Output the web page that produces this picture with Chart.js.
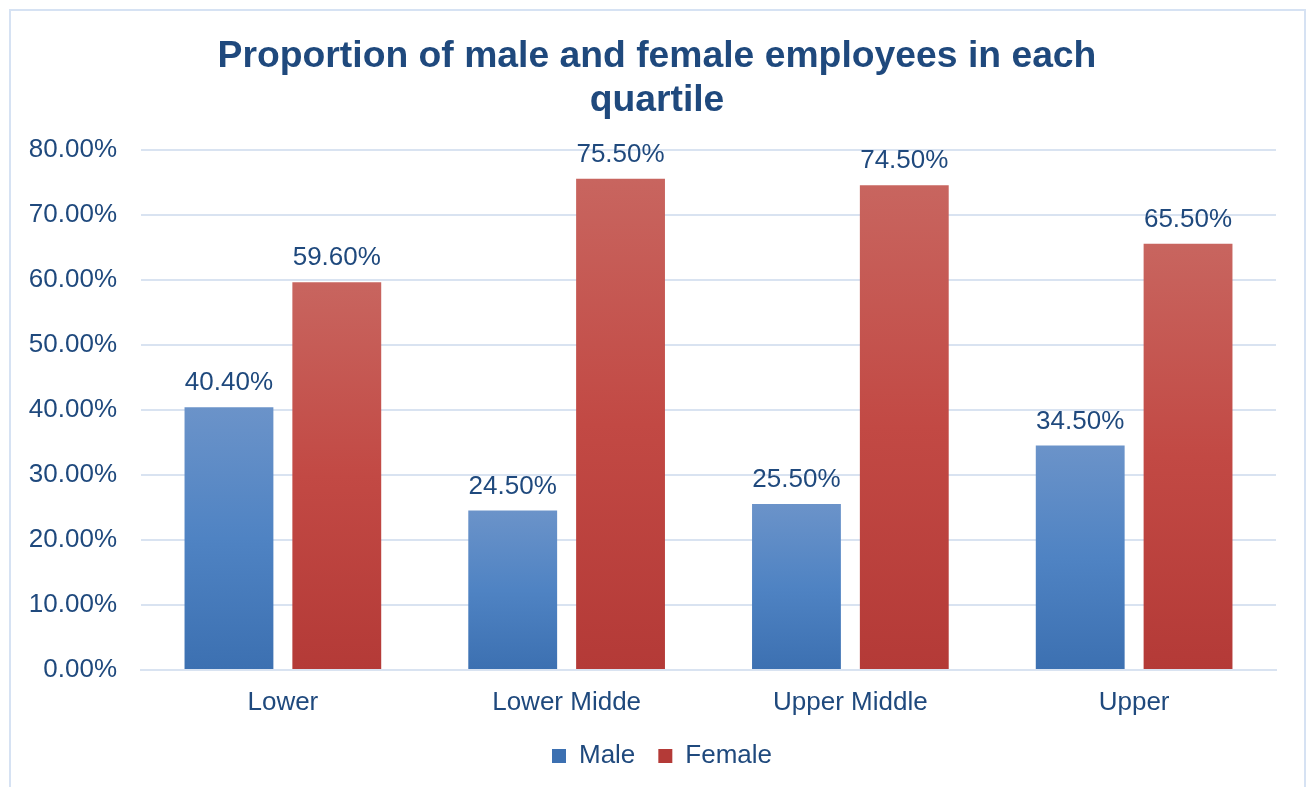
<!DOCTYPE html>
<html>
<head>
<meta charset="utf-8">
<script src="https://cdn.jsdelivr.net/npm/chart.js@4.4.1/dist/chart.umd.min.js"></script>
<style>
  html, body { margin: 0; padding: 0; background: #fff; overflow: hidden; }
  #frame {
    position: absolute; left: 9px; top: 9px; width: 1293px; height: 820px;
    border: 2px solid #d6e2f3; box-sizing: content-box; pointer-events: none;
  }
  #wrap { position: absolute; left: 0; top: 0; width: 1309px; height: 787px; }
</style>
</head>
<body>
<div id="wrap"><canvas id="chart"></canvas></div>
<div id="frame"></div>
<script>
var quartiles = ['Lower', 'Lower Midde', 'Upper Middle', 'Upper'];
var maleValues = [40.4, 24.5, 25.5, 34.5];
var femaleValues = [59.6, 75.5, 74.5, 65.5];
var titleLines = ['Proportion of male and female employees in each', 'quartile'];

var textColor = '#1f497d';
var fontFamily = '"Liberation Sans", Arial, sans-serif';

// each bar gets its own vertical gradient, like the Excel fill
function barGradient(top, mid, bottom, solid) {
  return function (ctx) {
    var chart = ctx.chart;
    if (ctx.type !== 'data' || !chart.chartArea) return solid;
    var y = chart.scales.y;
    var y0 = y.getPixelForValue(0);
    var y1 = y.getPixelForValue(ctx.raw);
    if (!isFinite(y0) || !isFinite(y1) || y0 === y1) return solid;
    var g = chart.ctx.createLinearGradient(0, y1, 0, y0);
    g.addColorStop(0, top);
    g.addColorStop(0.5, mid);
    g.addColorStop(1, bottom);
    return g;
  };
}

var valueLabels = {
  id: 'valueLabels',
  afterDatasetsDraw: function (chart) {
    var c = chart.ctx;
    c.save();
    c.font = '26px ' + fontFamily;
    c.fillStyle = textColor;
    c.textAlign = 'center';
    c.textBaseline = 'bottom';
    chart.data.datasets.forEach(function (ds, i) {
      chart.getDatasetMeta(i).data.forEach(function (bar, j) {
        c.fillText(ds.data[j].toFixed(2) + '%', bar.x, bar.y - 11);
      });
    });
    c.restore();
  }
};

// excel centres title and legend a bit right of the canvas middle
var shiftBlocks = {
  id: 'shiftBlocks',
  afterLayout: function (chart) {
    if (chart.titleBlock) chart.titleBlock.left = 38;
    if (chart.legend) chart.legend.left = 48;
  }
};

new Chart(document.getElementById('chart'), {
  type: 'bar',
  data: {
    labels: quartiles,
    datasets: [{
      label: 'Male',
      data: maleValues,
      backgroundColor: barGradient('#6b93c9', '#4f83c3', '#3c70b1', '#4f81bd'),
      borderWidth: 0
    }, {
      label: 'Female',
      data: femaleValues,
      backgroundColor: barGradient('#c8655f', '#c24944', '#b43a37', '#c0504d'),
      borderWidth: 0
    }]
  },
  options: {
    responsive: true,
    maintainAspectRatio: false,
    animation: false,
    categoryPercentage: 0.76,
    barPercentage: 0.824,
    layout: { padding: { left: 4, right: 33, top: 20, bottom: 8 } },
    plugins: {
      title: {
        display: true,
        text: titleLines,
        color: textColor,
        font: { family: fontFamily, size: 37.3, weight: 'bold', lineHeight: 1.2 },
        padding: { top: 14, bottom: 26 }
      },
      legend: {
        position: 'bottom',
        labels: {
          color: textColor,
          font: { family: fontFamily, size: 26 },
          boxWidth: 14,
          boxHeight: 14,
          padding: 23
        }
      },
      tooltip: { enabled: false }
    },
    scales: {
      x: {
        grid: { display: false, drawTicks: false },
        border: { color: '#d9e3f1', width: 2 },
        ticks: { color: textColor, font: { family: fontFamily, size: 26 }, padding: 17 },
        afterFit: function (s) { s.height = 50; }
      },
      y: {
        min: 0,
        max: 80,
        grid: { color: '#d9e3f1', lineWidth: 2, drawTicks: false },
        border: { display: false },
        ticks: {
          stepSize: 10,
          color: textColor,
          font: { family: fontFamily, size: 26 },
          padding: 24,
          callback: function (v) { return v.toFixed(2) + '%'; }
        },
        afterFit: function (s) { s.width = 137; }
      }
    }
  },
  plugins: [valueLabels, shiftBlocks]
});
</script>
</body>
</html>
